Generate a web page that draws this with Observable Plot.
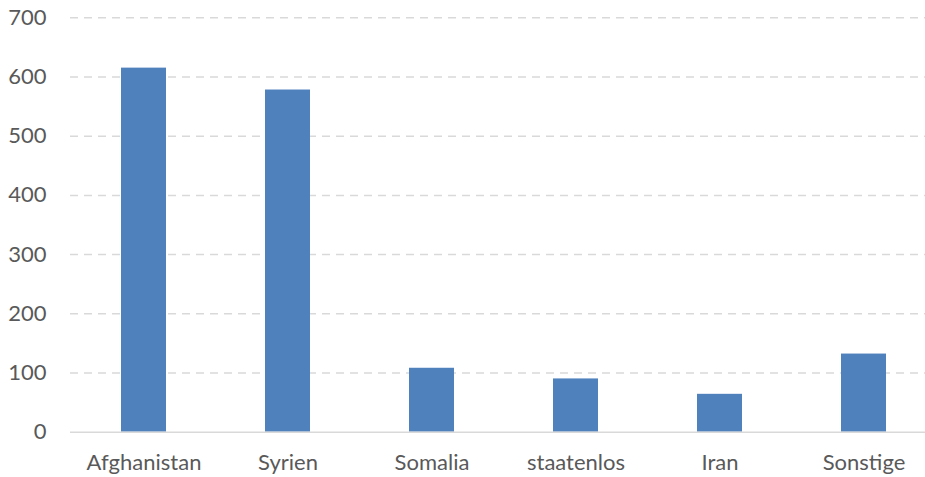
<!DOCTYPE html>
<html>
<head>
<meta charset="utf-8">
<script src="https://cdn.jsdelivr.net/npm/d3@7"></script>
<script src="https://cdn.jsdelivr.net/npm/@observablehq/plot@0.6"></script>
<style>
  html, body { margin: 0; padding: 0; background: #fff; }
  #chart svg { display: block; overflow: hidden; }
</style>
</head>
<body>
<div id="chart"></div>
<script>
const categories = ["Afghanistan", "Syrien", "Somalia", "staatenlos", "Iran", "Sonstige"];
const values = [615, 578, 108, 90, 64, 132];
const yTicks = [0, 100, 200, 300, 400, 500, 600, 700];

const data = categories.map((c, i) => ({category: c, value: values[i]}));

const chart = Plot.plot({
  width: 925,
  height: 477,
  marginTop: 17.3,
  marginBottom: 45.3,
  marginLeft: 70,
  marginRight: 0,
  style: {fontFamily: "Lato, 'Open Sans', sans-serif", fontSize: "22px", color: "#595959", background: "#fff"},
  x: {domain: categories, range: [69.6, 937.6], paddingInner: 0.687, paddingOuter: 0.3435, label: null},
  y: {domain: [0, 700], label: null},
  marks: [
    Plot.ruleY(yTicks.filter(d => d > 0), {stroke: "#D9D9D9", strokeWidth: 1.5, strokeDasharray: "8,6"}),
    Plot.barY(data, {x: "category", y: "value", fill: "#4F81BD"}),
    Plot.ruleY([0], {stroke: "#D9D9D9", strokeWidth: 1.5}),
    Plot.axisY({ticks: yTicks, tickSize: 0, tickPadding: 24, fill: "#595959", label: null, fontSize: 22}),
    Plot.axisX({tickSize: 0, tickPadding: 22, fill: "#595959", label: null, fontSize: 22})
  ]
});
document.getElementById("chart").appendChild(chart);
</script>
</body>
</html>
